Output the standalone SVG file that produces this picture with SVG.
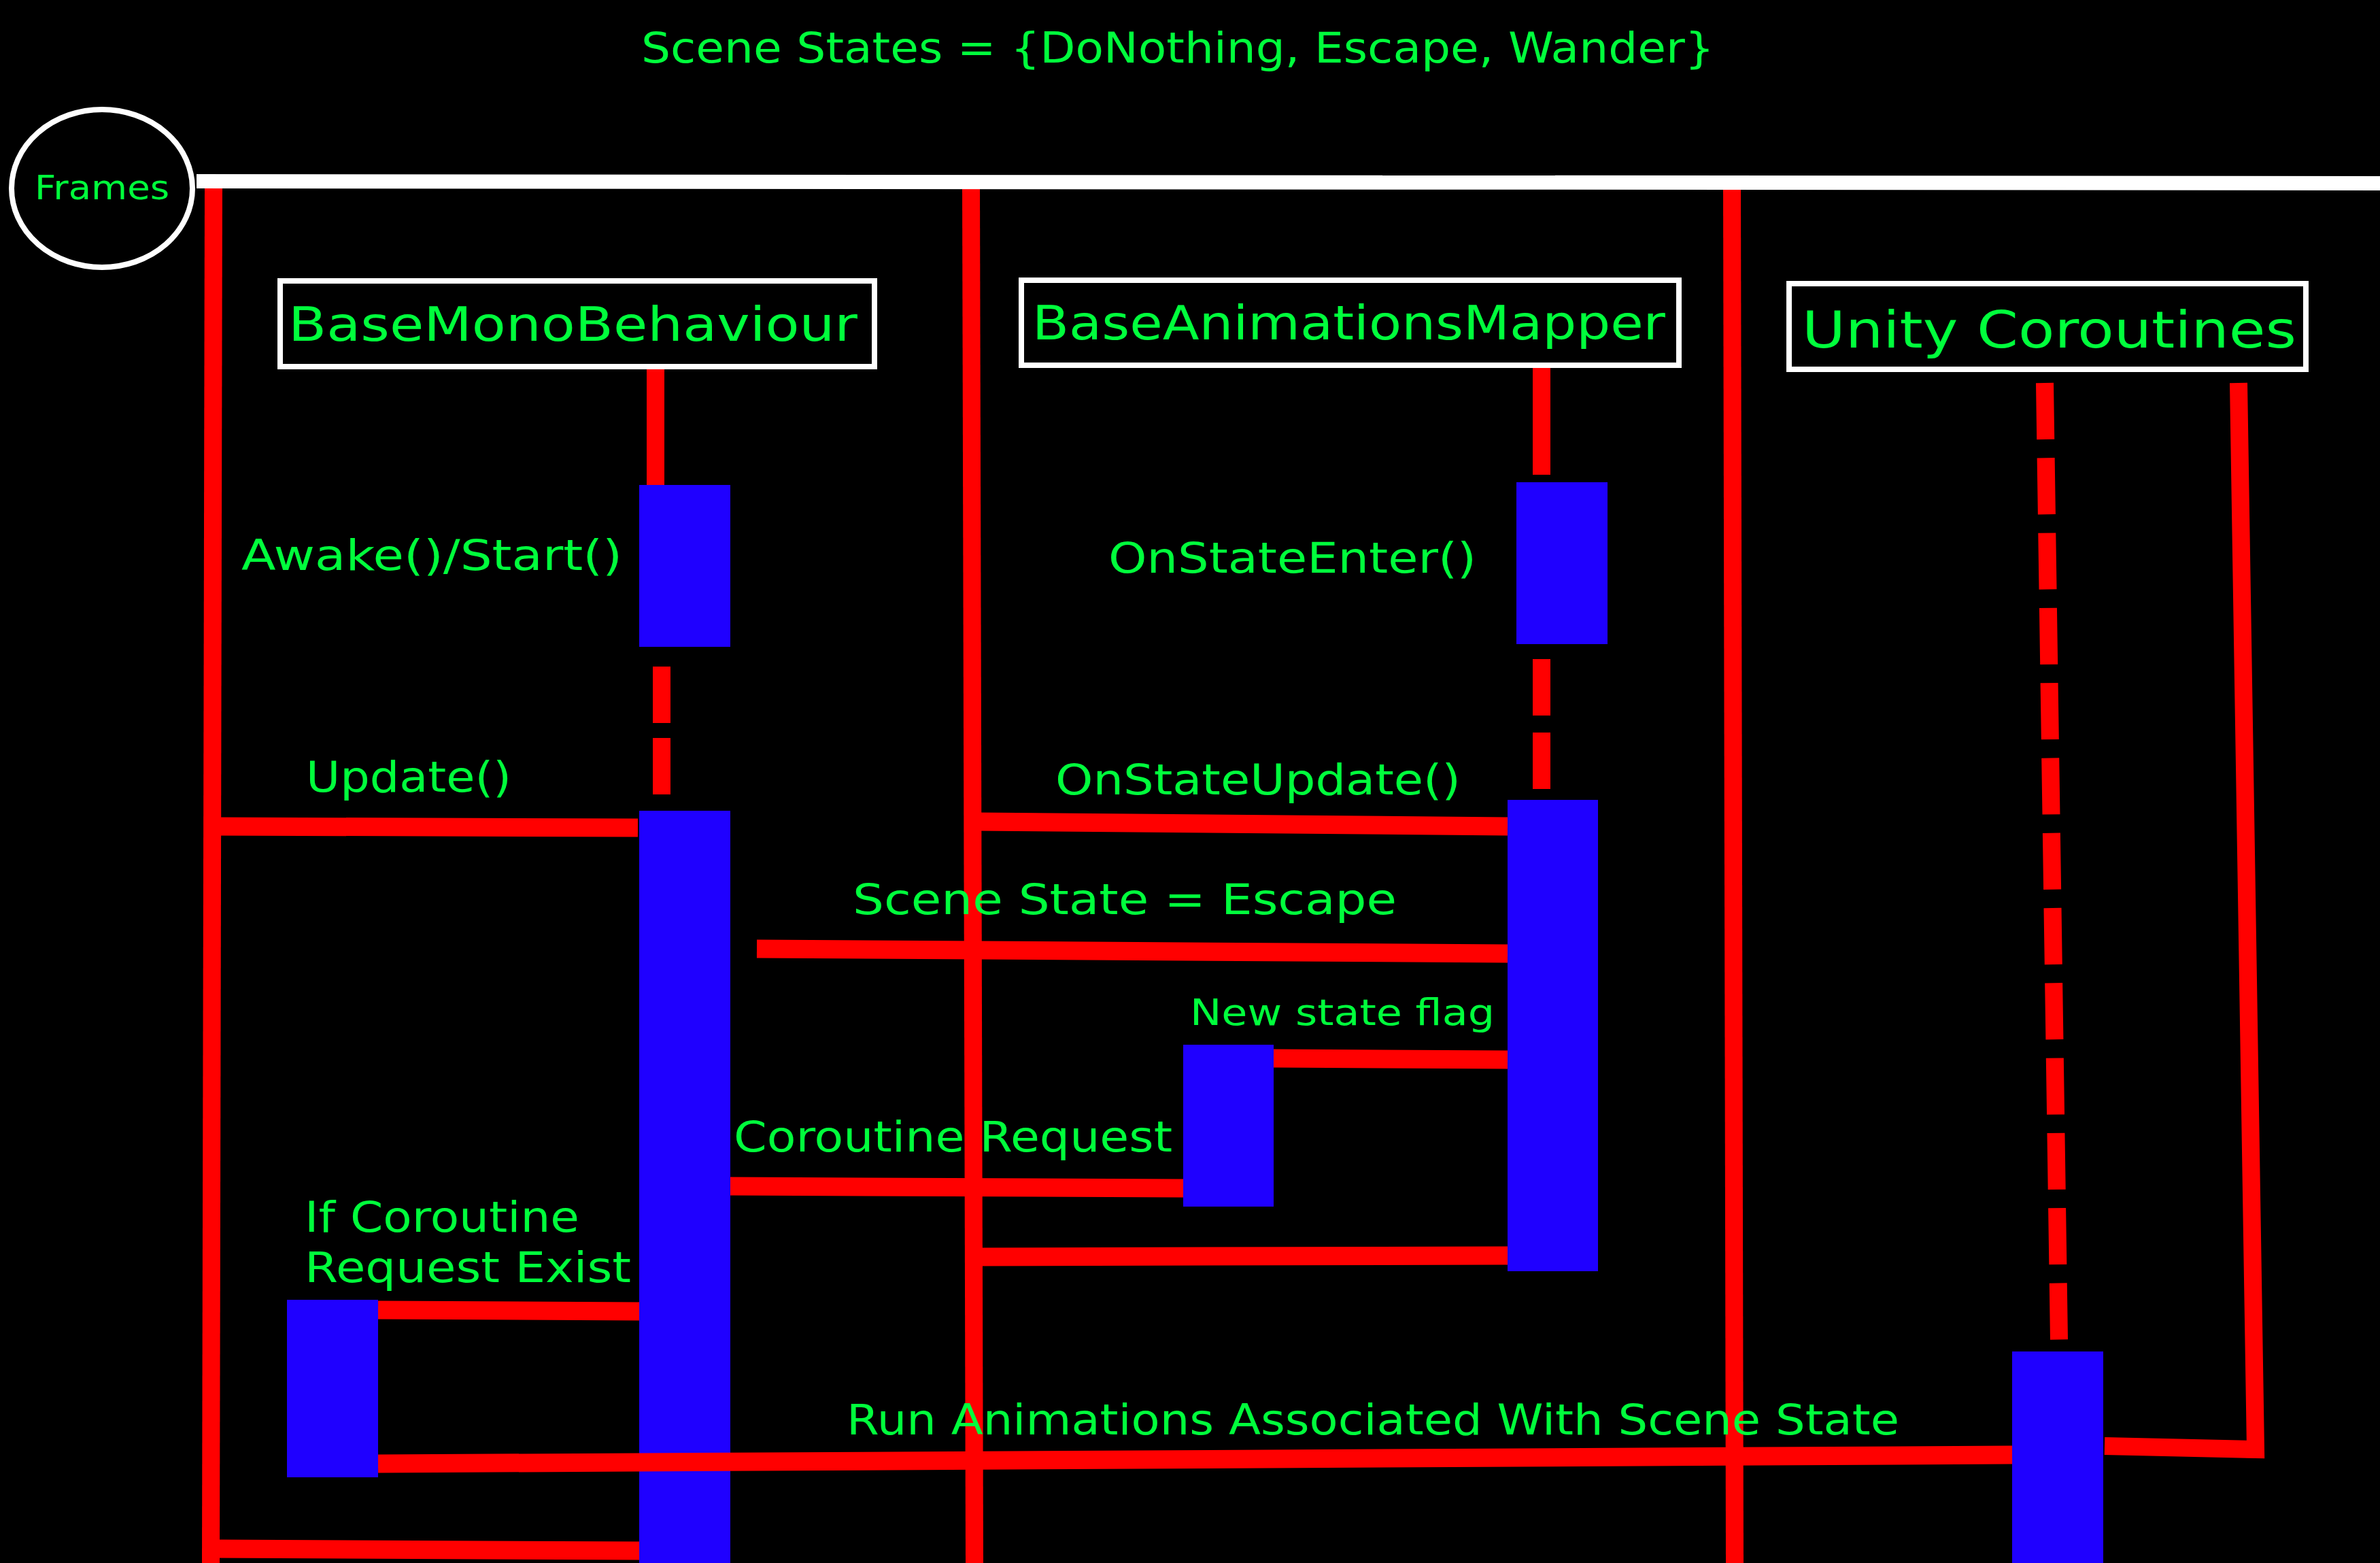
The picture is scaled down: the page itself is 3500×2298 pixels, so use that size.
<svg xmlns="http://www.w3.org/2000/svg" width="3500" height="2298" viewBox="0 0 3500 2298">
<style>
.lbl{fill:#00ff3c;font-family:"DejaVu Sans","Liberation Sans",sans-serif;}
.f63{font-size:62px;}
.red{stroke:#ff0000;stroke-width:27;fill:none;stroke-linecap:butt;}
.life{stroke:#ff0000;stroke-width:26;fill:none;}
.act{fill:#1f00ff;}
.hdr{fill:#000;stroke:#fff;stroke-width:8;}
</style>
<rect x="0" y="0" width="3500" height="2298" fill="#000"/>
<text id="title" class="lbl f63" x="943" y="92" textLength="1578" lengthAdjust="spacingAndGlyphs">Scene States = {DoNothing, Escape, Wander}</text>

<g id="frames">
<ellipse cx="150" cy="277" rx="133" ry="116" fill="#000" stroke="#fff" stroke-width="8"/>
<text class="lbl" font-size="49" x="51" y="293" textLength="198" lengthAdjust="spacingAndGlyphs">Frames</text>
</g>

<g id="frame-lines">
<line x1="314" y1="270" x2="310" y2="2298" class="life"/>
<line x1="1428" y1="270" x2="1433" y2="2298" class="life"/>
<line x1="2547" y1="270" x2="2551" y2="2298" class="life"/>
<polygon points="289,256 3500,259 3500,280 289,277" fill="#fff"/>
</g>

<g id="BaseMonoBehaviour">
<rect class="hdr" x="412" y="413" width="874" height="126"/>
<text class="lbl" font-size="69" x="424" y="501" textLength="837" lengthAdjust="spacingAndGlyphs">BaseMonoBehaviour</text>
</g>
<g id="BaseAnimationsMapper">
<rect class="hdr" x="1502" y="412" width="967" height="125"/>
<text class="lbl" font-size="69" x="1518" y="499" textLength="931" lengthAdjust="spacingAndGlyphs">BaseAnimationsMapper</text>
</g>
<g id="UnityCoroutines">
<rect class="hdr" x="2631" y="417" width="760" height="126"/>
<text class="lbl" font-size="74" x="2650" y="511" textLength="727" lengthAdjust="spacingAndGlyphs">Unity Coroutines</text>
</g>

<g id="connectors">
<line x1="964" y1="543" x2="964" y2="714" class="life" stroke-width="25"/>
<line x1="973" y1="980" x2="973" y2="1063" class="life" stroke-width="25"/>
<line x1="973" y1="1085" x2="973" y2="1168" class="life" stroke-width="25"/>
<line x1="2267" y1="541" x2="2267" y2="698" class="life" stroke-width="26"/>
<line x1="2267" y1="969" x2="2267" y2="1052" class="life" stroke-width="26"/>
<line x1="2267" y1="1077" x2="2267" y2="1160" class="life" stroke-width="26"/>
<line x1="3007" y1="563" x2="3028" y2="1970" class="life" stroke-width="25" stroke-dasharray="83 27.3"/>
<polyline points="3292,563 3317,2131 3095,2126" class="life" stroke-width="26" stroke-linejoin="miter"/>
<line x1="314" y1="1215" x2="938" y2="1217" class="red"/>
<line x1="1435" y1="1208" x2="2217" y2="1215" class="red"/>
<line x1="1113" y1="1395" x2="2217" y2="1402" class="red"/>
<line x1="1873" y1="1556" x2="2217" y2="1558" class="red"/>
<line x1="1073" y1="1744" x2="1740" y2="1747" class="red"/>
<line x1="1435" y1="1848" x2="2217" y2="1846" class="red"/>
<line x1="556" y1="1926" x2="940" y2="1928" class="red"/>
<line x1="310" y1="2277" x2="944" y2="2280" class="red"/>
</g>

<g id="activations">
<rect class="act" x="940" y="713" width="134" height="238"/>
<rect class="act" x="940" y="1192" width="134" height="1106"/>
<rect class="act" x="2230" y="709" width="134" height="238"/>
<rect class="act" x="2217" y="1176" width="133" height="693"/>
<rect class="act" x="1740" y="1536" width="133" height="238"/>
<rect class="act" x="422" y="1911" width="134" height="261"/>
<rect class="act" x="2959" y="1987" width="134" height="311"/>
</g>

<g id="connector-run">
<line x1="556" y1="2152" x2="2959" y2="2139" class="red"/>
</g>

<g id="labels">
<text class="lbl f63" x="355" y="838" textLength="560" lengthAdjust="spacingAndGlyphs">Awake()/Start()</text>
<text class="lbl f63" x="1630" y="842" textLength="541" lengthAdjust="spacingAndGlyphs">OnStateEnter()</text>
<text class="lbl f63" x="450" y="1164" textLength="302" lengthAdjust="spacingAndGlyphs">Update()</text>
<text class="lbl f63" x="1552" y="1168" textLength="596" lengthAdjust="spacingAndGlyphs">OnStateUpdate()</text>
<text class="lbl f63" x="1254" y="1344" textLength="800" lengthAdjust="spacingAndGlyphs">Scene State = Escape</text>
<text class="lbl" font-size="53" x="1750" y="1507" textLength="448" lengthAdjust="spacingAndGlyphs">New state flag</text>
<text class="lbl f63" x="1079" y="1693" textLength="645" lengthAdjust="spacingAndGlyphs">Coroutine Request</text>
<text class="lbl f63" x="448" y="1811" textLength="404" lengthAdjust="spacingAndGlyphs">If Coroutine</text>
<text class="lbl f63" x="448" y="1885" textLength="480" lengthAdjust="spacingAndGlyphs">Request Exist</text>
<text class="lbl f63" x="1245" y="2109" textLength="1548" lengthAdjust="spacingAndGlyphs">Run Animations Associated With Scene State</text>
</g>
</svg>
